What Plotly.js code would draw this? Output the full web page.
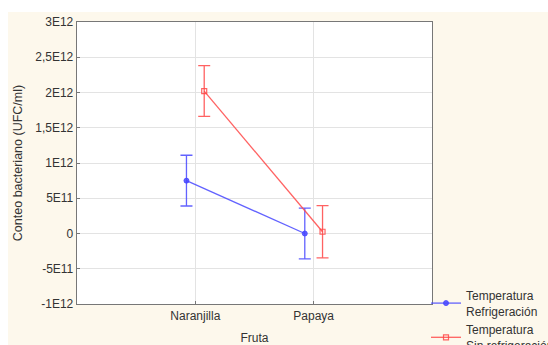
<!DOCTYPE html>
<html><head><meta charset="utf-8">
<script src="https://cdn.plot.ly/plotly-3.0.1.min.js"></script>
<style>html,body{margin:0;padding:0;background:#fff}</style>
</head><body><div id="chart" style="width:548px;height:345px"></div>
<script>
const categories = ["Naranjilla", "Papaya"];
const refrigeracion = [7.5e11, 0];
const refrigeracionErr = [3.6e11, 3.6e11];
const sinRefrigeracion = [2.02e12, 2.5e10];
const sinRefrigeracionErr = [3.6e11, 3.7e11];
const yTickVals = [-1e12, -5e11, 0, 5e11, 1e12, 1.5e12, 2e12, 2.5e12, 3e12];
const yTickText = ["-1E12", "-5E11", "0", "5E11", "1E12", "1,5E12", "2E12", "2,5E12", "3E12"];

const blue = "rgba(70,70,255,0.85)";
const red = "rgba(255,70,70,0.85)";
const W = 548, H = 345, M = {l: 77, r: 116, t: 22, b: 41, autoexpand: false};
const px = (x) => (x - M.l) / (W - M.l - M.r);
const py = (y) => (H - M.b - y) / (H - M.t - M.b);

const traces = [
  {x: categories, y: refrigeracion, type: "scatter", mode: "lines+markers",
   name: "Temperatura<br>Refrigeración", offsetgroup: "a",
   line: {color: blue, width: 1.3},
   marker: {symbol: "circle", size: 5, color: blue, line: {color: blue, width: 1}},
   error_y: {type: "data", array: refrigeracionErr, visible: true, color: blue, thickness: 1.3, width: 6}},
  {x: categories, y: sinRefrigeracion, type: "scatter", mode: "lines+markers",
   name: "Temperatura<br>Sin refrigeración", offsetgroup: "b",
   line: {color: red, width: 1.3},
   marker: {symbol: "square-open", size: 5, color: red, line: {color: red, width: 1.2}},
   error_y: {type: "data", array: sinRefrigeracionErr, visible: true, color: red, thickness: 1.3, width: 6}}
];

const layout = {
  width: W, height: H,
  margin: M,
  paper_bgcolor: "#fdf8ec",
  plot_bgcolor: "#ffffff",
  scattermode: "group",
  scattergap: 0.7,
  font: {family: "Liberation Sans, Arial, sans-serif", size: 12, color: "#333"},
  showlegend: true,
  legend: {x: px(426), y: py(281), xanchor: "left", yanchor: "top",
           bgcolor: "rgba(0,0,0,0)", font: {size: 12, color: "#333"},
           tracegroupgap: 0, itemwidth: 30},
  xaxis: {
    type: "category", range: [-1, 2],
    showgrid: true, gridcolor: "#e3e3e3", gridwidth: 1,
    showline: true, linecolor: "#777", linewidth: 1.3, mirror: true,
    ticks: "inside", ticklen: 3, tickcolor: "#777",
    zeroline: false,
    tickfont: {size: 12, color: "#333"},
    title: {text: "Fruta", font: {size: 12, color: "#333"}, standoff: 12}
  },
  yaxis: {
    range: [-1e12, 3e12],
    tickvals: yTickVals, ticktext: yTickText,
    showgrid: true, gridcolor: "#e3e3e3", gridwidth: 1,
    showline: true, linecolor: "#777", linewidth: 1.3, mirror: true,
    ticks: "inside", ticklen: 3, tickcolor: "#777",
    zeroline: false,
    tickfont: {size: 12, color: "#333"},
    title: {text: "Conteo bacteriano (UFC/ml)", font: {size: 12.5, color: "#333"}, standoff: 10}
  },
  shapes: [
    {type: "rect", xref: "paper", yref: "paper", layer: "below",
     x0: px(-2), x1: px(W + 2), y0: py(12), y1: py(-2),
     fillcolor: "#ffffff", line: {width: 0}},
    {type: "rect", xref: "paper", yref: "paper", layer: "below",
     x0: px(-2), x1: px(8), y0: py(H + 2), y1: py(-2),
     fillcolor: "#ffffff", line: {width: 0}}
  ]
};

Plotly.newPlot("chart", traces, layout, {displayModeBar: false, staticPlot: true});
</script></body></html>
